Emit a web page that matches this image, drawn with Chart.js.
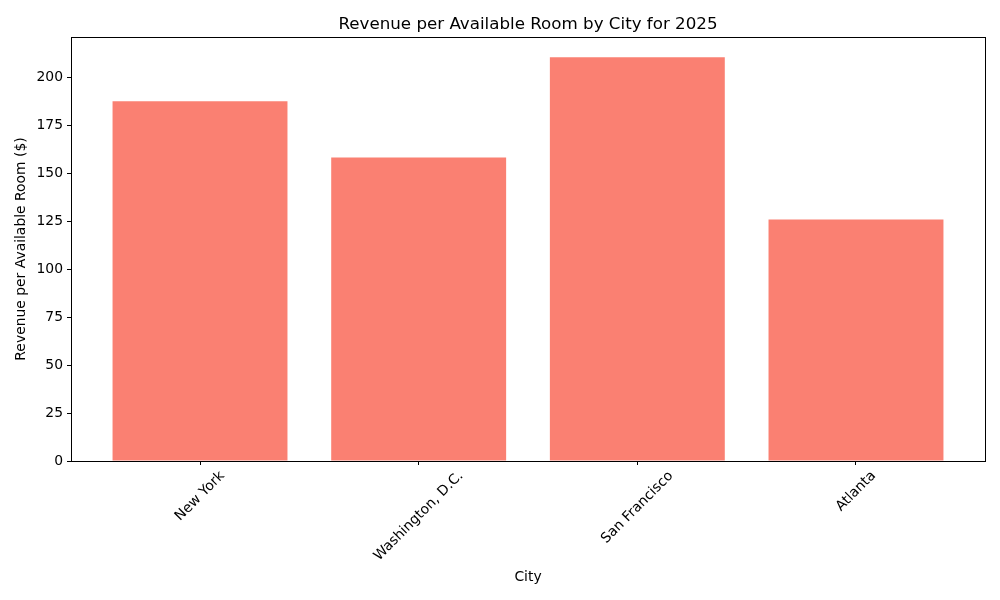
<!DOCTYPE html>
<html>
<head>
<meta charset="utf-8">
<script src="https://cdn.jsdelivr.net/npm/chart.js@4"></script>
<style>
html,body{margin:0;padding:0;background:#fff;}
#wrap{width:1000px;height:600px;}
</style>
</head>
<body>
<div id="wrap"><canvas id="c" width="1000" height="600"></canvas></div>
<script>
const cities = ["New York", "Washington, D.C.", "San Francisco", "Atlanta"];
const revpar = [187.6, 158.3, 210.6, 125.9];
const yTicks = [0, 25, 50, 75, 100, 125, 150, 175, 200];
const chartTitle = "Revenue per Available Room by City for 2025";
const xTitle = "City";
const yTitle = "Revenue per Available Room ($)";

const FONT = "DejaVu Sans";
const TICK_SIZE = 13.9;

const overlay = {
  id: 'overlay',
  afterDraw(chart) {
    const {ctx, chartArea: a, scales: {x}} = chart;
    ctx.save();
    ctx.strokeStyle = '#000';
    ctx.lineWidth = 1;
    ctx.strokeRect(a.left + 0.5, a.top + 0.5, a.right - a.left, a.bottom - a.top);
    ctx.fillStyle = '#000';
    ctx.font = '16.7px "' + FONT + '"';
    ctx.textAlign = 'center';
    ctx.textBaseline = 'alphabetic';
    ctx.fillText(chartTitle, (a.left + a.right) / 2, 29);
    ctx.textBaseline = 'middle';
    ctx.font = TICK_SIZE + 'px "' + FONT + '"';
    cities.forEach((c, i) => {
      const px = x.getPixelForValue(i);
      const w = ctx.measureText(c).width;
      const h = TICK_SIZE * 1.16;
      const ext = (w + h) * Math.SQRT1_2;
      const cy = a.bottom + 7 + ext / 2;
      ctx.save();
      ctx.translate(px, cy);
      ctx.rotate(-Math.PI / 4);
      ctx.fillText(c, 0, 0);
      ctx.restore();
    });
    ctx.restore();
  }
};

new Chart(document.getElementById('c'), {
  type: 'bar',
  data: {
    datasets: [{
      data: cities.map((c, i) => ({x: i, y: revpar[i]})),
      backgroundColor: '#FA8072',
      borderWidth: 0,
      categoryPercentage: 1.0,
      barPercentage: 0.8
    }]
  },
  options: {
    responsive: false,
    animation: false,
    devicePixelRatio: 1,
    layout: {padding: {top: 37, right: 15, left: 0, bottom: 0}},
    plugins: {legend: {display: false}, tooltip: {enabled: false}, title: {display: false}},
    scales: {
      x: {
        type: 'linear',
        offset: false,
        min: -0.59,
        max: 3.59,
        afterBuildTicks: s => { s.ticks = cities.map((c, i) => ({value: i})); },
        afterFit: s => { s.height = 139; },
        grid: {display: true, offset: false, drawOnChartArea: false, drawTicks: true, tickLength: 4, color: '#000', tickWidth: 1},
        border: {display: false},
        ticks: {display: false},
        title: {display: true, text: xTitle, color: '#000', font: {family: FONT, size: TICK_SIZE}, padding: {top: 0, bottom: 14.7}}
      },
      y: {
        type: 'linear',
        min: 0,
        max: 221.1,
        afterBuildTicks: s => { s.ticks = yTicks.map(v => ({value: v})); },
        afterFit: s => { s.width = 71; },
        grid: {display: true, drawOnChartArea: false, drawTicks: true, tickLength: 4, color: '#000', tickWidth: 1},
        border: {display: false},
        ticks: {color: '#000', font: {family: FONT, size: TICK_SIZE}, padding: 4, includeBounds: false},
        title: {display: true, text: yTitle, color: '#000', font: {family: FONT, size: TICK_SIZE}, padding: {top: 12.7, bottom: 0}}
      }
    }
  },
  plugins: [overlay]
});
</script>
</body>
</html>
